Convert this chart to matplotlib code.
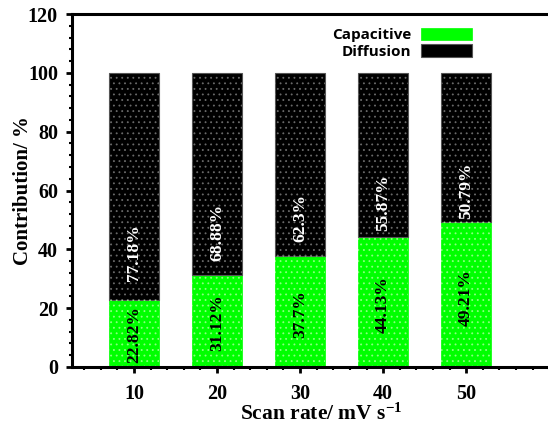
import matplotlib.pyplot as plt
import numpy as np
from matplotlib.ticker import MultipleLocator

# scan rate (mV/s) and contributions (%)
scan_rate = [10, 20, 30, 40, 50]
capacitive = [22.82, 31.12, 37.7, 44.13, 49.21]
diffusion = [77.18, 68.88, 62.3, 55.87, 50.79]
cap_labels = ['22.82%', '31.12%', '37.7%', '44.13%', '49.21%']
dif_labels = ['77.18%', '68.88%', '62.3%', '55.87%', '50.79%']

plt.rcParams['font.family'] = 'Liberation Serif'
plt.rcParams['font.weight'] = 'bold'
plt.rcParams['mathtext.default'] = 'regular'
plt.rcParams['hatch.linewidth'] = 0.6

fig = plt.figure(figsize=(5.48, 4.25), dpi=100)
ax = fig.add_axes([0.131, 0.1365, 0.909, 0.8305])

x = np.array(scan_rate, dtype=float)
cap = np.array(capacitive)
dif = np.array(diffusion)
w = 6.1

# solid fills first, then dotted overlay
b1 = ax.bar(x, cap, w, color='#00ff00', edgecolor='#00ff00', linewidth=0.5, label='Capacitive')
b2 = ax.bar(x, dif, w, bottom=cap, color='black', edgecolor='#555555', linewidth=0.8, label='Diffusion')
ax.bar(x, cap, w, fill=False, hatch='...', edgecolor='#8cff80', linewidth=0)
ax.bar(x, dif, w, bottom=cap, fill=False, hatch='...', edgecolor='#6a6a6a', linewidth=0)

for xi, c, d, cl, dl in zip(x, cap, dif, cap_labels, dif_labels):
    ax.text(xi, c * 0.48, cl, rotation=90, ha='center', va='center',
            fontsize=12.5, fontweight='bold', color='black')
    ax.text(xi, c + d * 0.21, dl, rotation=90, ha='center', va='center',
            fontsize=12.5, fontweight='bold', color='white')

ax.set_xlim(2.5, 62.5)
ax.set_ylim(0, 120)
ax.set_xticks(scan_rate)
ax.set_yticks(range(0, 121, 20))
ax.xaxis.set_minor_locator(MultipleLocator(2))
ax.yaxis.set_minor_locator(MultipleLocator(4))
ax.tick_params(which='major', direction='out', length=4, width=2, labelsize=14.5, pad=6)
ax.tick_params(which='minor', direction='out', length=2.5, width=1.5)
ax.tick_params(axis='x', pad=8)
for lab in ax.get_xticklabels() + ax.get_yticklabels():
    lab.set_fontweight('bold')

for s in ['left', 'bottom', 'top']:
    ax.spines[s].set_linewidth(2.2)
ax.spines['right'].set_visible(False)

ax.set_xlabel('Scan rate/ mV s$^{-1}$', fontsize=15.5, fontweight='bold', labelpad=0)
ax.set_ylabel('Contribution/ %', fontsize=15, fontweight='bold')
ax.yaxis.set_label_coords(-0.078, 0.5)

leg = ax.legend(handles=[b1, b2], loc='upper left', bbox_to_anchor=(0.495, 1.0),
                frameon=False, markerfirst=False, handlelength=3.4, handleheight=0.85,
                handletextpad=0.6, labelspacing=0.15,
                prop={'family': 'Open Sans', 'weight': 'bold', 'size': 11})
for t in leg.get_texts():
    t.set_ha('right')

fig.savefig('out.png', dpi=100)
